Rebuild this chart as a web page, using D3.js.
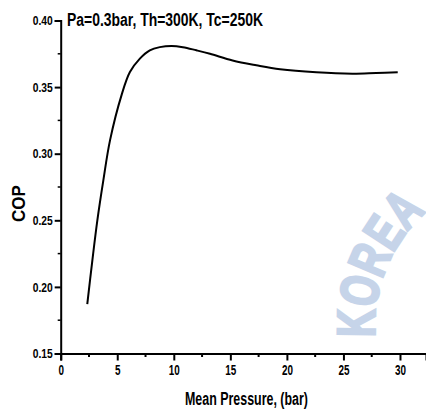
<!DOCTYPE html>
<html><head><meta charset="utf-8">
<script src="https://cdn.jsdelivr.net/npm/d3@7"></script>
<style>html,body{margin:0;padding:0;background:#fff;}svg{display:block;}</style>
</head><body>
<svg id="c" width="426" height="410"></svg>
<script>
const pressure = [2.35, 2.80, 3.24, 3.77, 4.36, 5.38, 6.12, 7.0, 7.88, 8.76, 9.8, 10.8, 12.0, 13.2, 15.2, 17.3, 19.4, 22.6, 25.8, 27.9, 29.8];
const cop      = [0.187, 0.220, 0.250, 0.280, 0.310, 0.344, 0.3613, 0.3714, 0.3776, 0.380, 0.3809, 0.380, 0.3776, 0.375, 0.370, 0.3664, 0.3634, 0.3611, 0.3601, 0.3606, 0.3611];
const xTicks = [0, 5, 10, 15, 20, 25, 30];
const xTickLabels = ["0", "5", "10", "15", "20", "25", "30"];
const yTicks = [0.15, 0.20, 0.25, 0.30, 0.35, 0.40];
const yTickLabels = ["0.15", "0.20", "0.25", "0.30", "0.35", "0.40"];
const xMinor = [2.5, 7.5, 12.5, 17.5, 22.5, 27.5, 32.5];
const yMinor = [0.175, 0.225, 0.275, 0.325, 0.375];
const titleText = "Pa=0.3bar, Th=300K, Tc=250K";
const xLabel = "Mean Pressure, (bar)";
const yLabel = "COP";
const watermarkText = "KOREA";

const svg = d3.select("#c");
const FONT = "'Liberation Sans', Arial, sans-serif";

// watermark along an arc
const cx = 525, cy = 325, r = 150;
const a0 = 170 * Math.PI / 180, a1 = 240 * Math.PI / 180;
svg.append("defs").append("path").attr("id", "wmArc")
  .attr("d", `M${cx + r * Math.cos(a0)},${cy + r * Math.sin(a0)} A${r},${r} 0 0 1 ${cx + r * Math.cos(a1)},${cy + r * Math.sin(a1)}`);
svg.append("text").attr("fill", "#c6d4e9").attr("stroke", "#c6d4e9").attr("stroke-width", 2.5)
  .attr("font-family", FONT).attr("font-weight", "bold").attr("font-size", 54)
  .append("textPath").attr("href", "#wmArc").attr("startOffset", 14)
  .attr("textLength", 140).attr("lengthAdjust", "spacingAndGlyphs").text(watermarkText);

const x = d3.scaleLinear().domain([0, 32.3]).range([60.7, 426]);
const y = d3.scaleLinear().domain([0.15, 0.40]).range([353.5, 20.5]);

// x axis
const xAxis = svg.append("g").attr("transform", `translate(0,${y(0.15)})`)
  .call(d3.axisBottom(x).tickValues(xTicks).tickFormat((d, i) => xTickLabels[i]).tickSizeOuter(0).tickSize(7).tickPadding(5));
xAxis.select(".domain").attr("stroke-width", 2);
xAxis.selectAll(".tick line").attr("stroke-width", 2);
xAxis.selectAll(".tick text").attr("font-family", FONT).attr("font-weight", "bold").attr("font-size", 14)
  .attr("textLength", d => String(d).length * 5.5).attr("lengthAdjust", "spacingAndGlyphs");
xAxis.selectAll(".minor").data(xMinor.filter(v => v <= 32.3)).enter().append("line").attr("class", "minor")
  .attr("x1", d => x(d)).attr("x2", d => x(d)).attr("y1", 0).attr("y2", 3.5).attr("stroke", "#000").attr("stroke-width", 2);

// y axis
const yAxis = svg.append("g").attr("transform", `translate(${x(0)},0)`)
  .call(d3.axisLeft(y).tickValues(yTicks).tickFormat((d, i) => yTickLabels[i]).tickSizeOuter(0).tickSize(6).tickPadding(2));
yAxis.select(".domain").attr("stroke-width", 2);
yAxis.selectAll(".tick line").attr("stroke-width", 2);
yAxis.selectAll(".tick text").attr("font-family", FONT).attr("font-weight", "bold").attr("font-size", 13)
  .attr("textLength", 20).attr("lengthAdjust", "spacingAndGlyphs");
yAxis.selectAll(".minor").data(yMinor).enter().append("line").attr("class", "minor")
  .attr("x1", 0).attr("x2", -3).attr("y1", d => y(d)).attr("y2", d => y(d)).attr("stroke", "#000").attr("stroke-width", 1.5);

// curve
const pts = pressure.map((p, i) => [p, cop[i]]);
svg.append("path").datum(pts)
  .attr("fill", "none").attr("stroke", "#000").attr("stroke-width", 2)
  .attr("d", d3.line().x(d => x(d[0])).y(d => y(d[1])).curve(d3.curveCatmullRom.alpha(0.5)));

// title
svg.append("text").attr("x", 67).attr("y", 26).attr("font-family", FONT).attr("font-weight", "bold")
  .attr("font-size", 17.5).attr("textLength", 196).attr("lengthAdjust", "spacingAndGlyphs").text(titleText);

// x label
svg.append("text").attr("x", 185).attr("y", 405).attr("font-family", FONT).attr("font-weight", "bold")
  .attr("font-size", 18).attr("textLength", 123).attr("lengthAdjust", "spacingAndGlyphs").text(xLabel);

// y label
svg.append("text").attr("transform", "translate(25,222) rotate(-90)").attr("font-family", FONT).attr("font-weight", "bold")
  .attr("font-size", 18).attr("textLength", 37).attr("lengthAdjust", "spacingAndGlyphs").text(yLabel);
</script>
</body></html>
